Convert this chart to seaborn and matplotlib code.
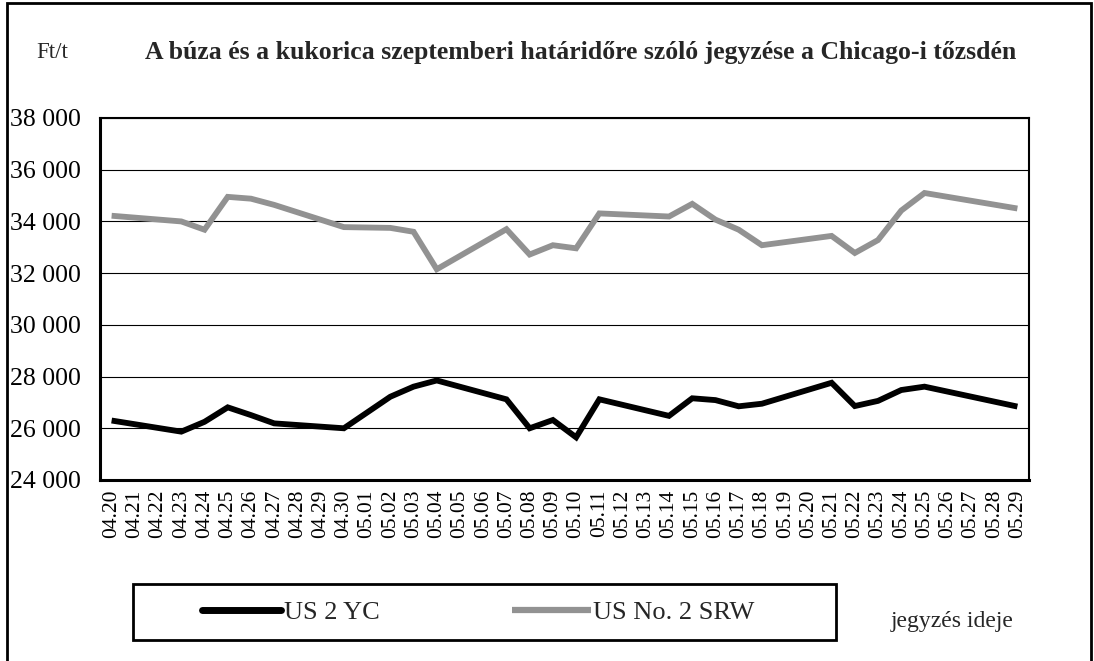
import matplotlib
matplotlib.use("Agg")
import matplotlib.pyplot as plt
import seaborn as sns
import pandas as pd
import numpy as np
from matplotlib.lines import Line2D
from matplotlib.patches import Rectangle

dates = ["04.20", "04.21", "04.22", "04.23", "04.24", "04.25", "04.26", "04.27", "04.28", "04.29",
         "04.30", "05.01", "05.02", "05.03", "05.04", "05.05", "05.06", "05.07", "05.08", "05.09",
         "05.10", "05.11", "05.12", "05.13", "05.14", "05.15", "05.16", "05.17", "05.18", "05.19",
         "05.20", "05.21", "05.22", "05.23", "05.24", "05.25", "05.26", "05.27", "05.28", "05.29"]

N = None
us2yc = [26300, N, N, 25870, 26250, 26810, 26510, 26190, N, N,
         26000, N, 27220, 27610, 27850, N, N, 27120, 26000, 26320,
         25650, 27120, N, N, 26480, 27160, 27090, 26850, 26950, N,
         N, 27760, 26860, 27060, 27480, 27610, N, N, N, 26840]

srw = [34220, N, N, 34000, 33680, 34950, 34880, 34640, N, N,
       33780, N, 33750, 33600, 32150, N, N, 33700, 32720, 33080,
       32960, 34310, N, N, 34190, 34680, 34070, 33680, 33080, N,
       N, 33440, 32780, 33280, 34420, 35100, N, N, N, 34500]

series_names = ["US 2 YC", "US No. 2 SRW"]
yticks = [24000, 26000, 28000, 30000, 32000, 34000, 36000, 38000]

title = "A búza és a kukorica szeptemberi határidőre szóló jegyzése a Chicago-i tőzsdén"

rows = []
for i, d in enumerate(dates):
    for name, vals in zip(series_names, [us2yc, srw]):
        if vals[i] is not None:
            rows.append({"pos": i, "date": d, "series": name, "value": vals[i]})
df = pd.DataFrame(rows)

sns.set_theme(style="white")
plt.rcParams['font.family'] = ['Liberation Serif', 'DejaVu Serif']

W, H = 1094, 661
fig = plt.figure(figsize=(W / 100, H / 100), dpi=100)
ax = fig.add_axes([100 / W, 1 - 480 / H, 929 / W, 362 / H])

GRAY = "#929292"
palette = {"US 2 YC": "#000000", "US No. 2 SRW": GRAY}
sns.lineplot(data=df, x="pos", y="value", hue="series", palette=palette,
             linewidth=4.2, estimator=None, sort=True, legend=False, ax=ax)
for ln in ax.get_lines():
    ln.set_solid_joinstyle("miter")
    ln.set_solid_capstyle("butt")

ax.set_xlim(-0.5, len(dates) - 0.5)
ax.set_ylim(24000, 38000)
ax.set_yticks(yticks)
ax.set_yticklabels([f"{v:,}".replace(",", " ") for v in yticks], fontsize=18.5)
ax.yaxis.grid(True, color="#000000", linewidth=0.8)
ax.set_axisbelow(True)

ax.set_xticks(range(len(dates)))
ax.set_xticklabels(dates, rotation=90, fontsize=15.5)
ax.set_xticks(np.arange(-0.5, len(dates), 1.0), minor=True)
ax.tick_params(axis="x", which="major", length=0, pad=7)
ax.tick_params(axis="x", which="minor", length=6, width=1.5, direction="out", color="black")
ax.tick_params(axis="y", which="major", length=6, width=1.5, direction="out", color="black", pad=8)
ax.tick_params(labelcolor="black")
ax.set_xlabel("")
ax.set_ylabel("")
for sp in ax.spines.values():
    sp.set_visible(True)
    sp.set_color("black")
    sp.set_linewidth(1.5)
ax.spines["left"].set_linewidth(2.2)
ax.spines["bottom"].set_linewidth(2.2)

# titles / texts
fig.text(581 / W, 1 - 52 / H, title, ha="center", va="center", fontsize=18.5, fontweight="bold")
fig.text(52 / W, 1 - 53 / H, "Ft/t", ha="center", va="center", fontsize=16.5)
fig.text(952 / W, 1 - 622 / H, "jegyzés ideje", ha="center", va="center", fontsize=17)

# legend
fig.patches.append(Rectangle((133 / W, 1 - 640 / H), (836 - 133) / W, 56 / H, transform=fig.transFigure,
                             fill=False, edgecolor="black", linewidth=2.0))
handles = [Line2D([0], [0], color="#000000", lw=5.0, solid_capstyle="round"),
           Line2D([0], [0], color=GRAY, lw=4.5, solid_capstyle="butt")]
leg = fig.legend(handles, series_names, loc="center left",
                 bbox_to_anchor=(202 / W, 1 - 612 / H), borderaxespad=0, borderpad=0,
                 ncol=2, frameon=False, fontsize=19, handlelength=3.0,
                 handletextpad=0.1, columnspacing=5.0)

# outer border
fig.patches.append(Rectangle((7 / W, -0.05), (1091 - 7) / W, 1.05 - 3 / H, transform=fig.transFigure,
                             fill=False, edgecolor="black", linewidth=2.0))

fig.savefig("out.png", dpi=100)
